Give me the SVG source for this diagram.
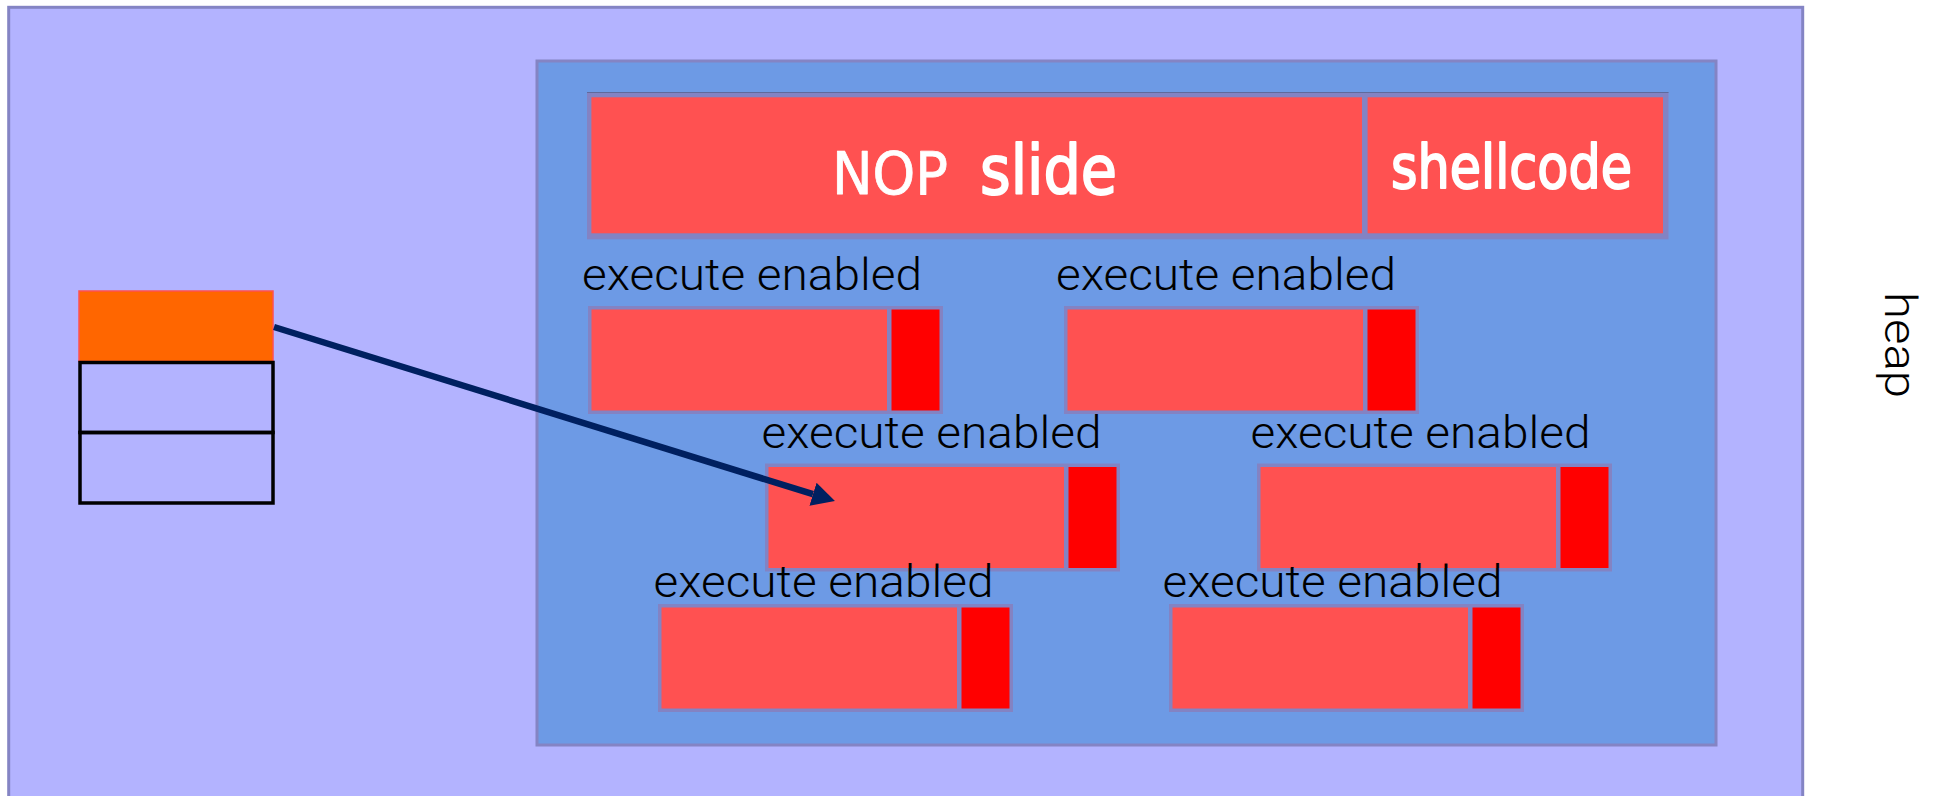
<svg xmlns="http://www.w3.org/2000/svg" width="1942" height="796" viewBox="0 0 1942 796">
  <defs>
    <style>
      .frame { fill: #8383c3; }
      .body { fill: #ff5151; }
      .flag { fill: #ff0000; }
      .lbl { font-family: Roboto, "Liberation Sans", Arial, sans-serif; font-weight: 300; font-size: 44px; fill: #000000; }
      .big { font-family: "DejaVu Sans", Verdana, sans-serif; fill: #ffffff; stroke: #ffffff; stroke-linejoin: round; }
      .cell { fill: none; stroke: #000000; stroke-width: 3.5; }
    </style>
    <marker id="head" viewBox="0 0 23 24" refX="0" refY="12" markerWidth="23" markerHeight="24" markerUnits="userSpaceOnUse" orient="auto">
      <path d="M0,0 L23,12 L0,24 Z" fill="#002060"/>
    </marker>
    <!-- one executable heap chunk: grey frame, payload body, red flag strip -->
    <g id="chunk">
      <rect class="frame" x="0" y="0" width="355" height="108"/>
      <rect class="body" x="3.5" y="3.5" width="295.5" height="101"/>
      <rect class="flag" x="303.5" y="3.5" width="48" height="101"/>
    </g>
  </defs>

  <!-- heap region -->
  <g id="heap">
    <rect x="8.7" y="7.3" width="1794" height="800" fill="#b3b3ff" stroke="#8484c4" stroke-width="3"/>
    <text class="lbl" transform="translate(1885,292) rotate(90)" x="0" y="0" font-size="50" textLength="106" lengthAdjust="spacingAndGlyphs">heap</text>
  </g>

  <!-- sprayed area -->
  <g id="spray">
    <rect x="537" y="61" width="1179" height="684" fill="#6d9ae5" stroke="#8484c4" stroke-width="3"/>
  </g>

  <!-- NOP slide + shellcode payload -->
  <g id="payload">
    <rect class="frame" x="587" y="92" width="1081.5" height="147.3"/>
    <line x1="587" y1="92.5" x2="1668.5" y2="92.5" stroke="#5f6a9c" stroke-width="1"/>
    <rect class="body" x="591.4" y="97.3" width="770.6" height="136"/>
    <rect class="body" x="1367.6" y="97.3" width="295.4" height="136"/>
    <text class="big" x="832" y="193.5" font-size="59" stroke-width="0.8" textLength="116" lengthAdjust="spacingAndGlyphs">NOP</text>
    <text class="big" x="980" y="193.5" font-size="68" stroke-width="2" textLength="137" lengthAdjust="spacingAndGlyphs">slide</text>
    <text class="big" x="1391" y="188.3" font-size="60" stroke-width="2" textLength="241" lengthAdjust="spacingAndGlyphs">shellcode</text>
  </g>

  <!-- executable chunks -->
  <g id="chunk-a">
    <text class="lbl" x="582" y="290" textLength="340" lengthAdjust="spacingAndGlyphs">execute enabled</text>
    <use href="#chunk" x="588" y="306"/>
  </g>
  <g id="chunk-b">
    <text class="lbl" x="1056" y="290" textLength="340" lengthAdjust="spacingAndGlyphs">execute enabled</text>
    <use href="#chunk" x="1064" y="306"/>
  </g>
  <g id="chunk-c">
    <text class="lbl" x="761.5" y="448" textLength="340" lengthAdjust="spacingAndGlyphs">execute enabled</text>
    <use href="#chunk" x="765" y="463.5"/>
  </g>
  <g id="chunk-d">
    <text class="lbl" x="1250.5" y="448" textLength="340" lengthAdjust="spacingAndGlyphs">execute enabled</text>
    <use href="#chunk" x="1257" y="463.5"/>
  </g>
  <g id="chunk-e">
    <text class="lbl" x="653.5" y="597" textLength="340" lengthAdjust="spacingAndGlyphs">execute enabled</text>
    <use href="#chunk" x="658" y="604"/>
  </g>
  <g id="chunk-f">
    <text class="lbl" x="1162.5" y="597" textLength="340" lengthAdjust="spacingAndGlyphs">execute enabled</text>
    <use href="#chunk" x="1169" y="604"/>
  </g>

  <!-- pointer table: first slot holds the overwritten pointer -->
  <g id="pointers">
    <rect x="79" y="291" width="194" height="70.5" fill="#ff6600" stroke="#ff5050" stroke-width="1.5"/>
    <rect class="cell" x="80" y="362.5" width="193" height="70"/>
    <rect class="cell" x="80" y="432.5" width="193" height="70.5"/>
  </g>

  <!-- connectors -->
  <g id="connectors">
    <line x1="274" y1="327" x2="813" y2="494.2" stroke="#002060" stroke-width="6.5" marker-end="url(#head)"/>
  </g>
</svg>
